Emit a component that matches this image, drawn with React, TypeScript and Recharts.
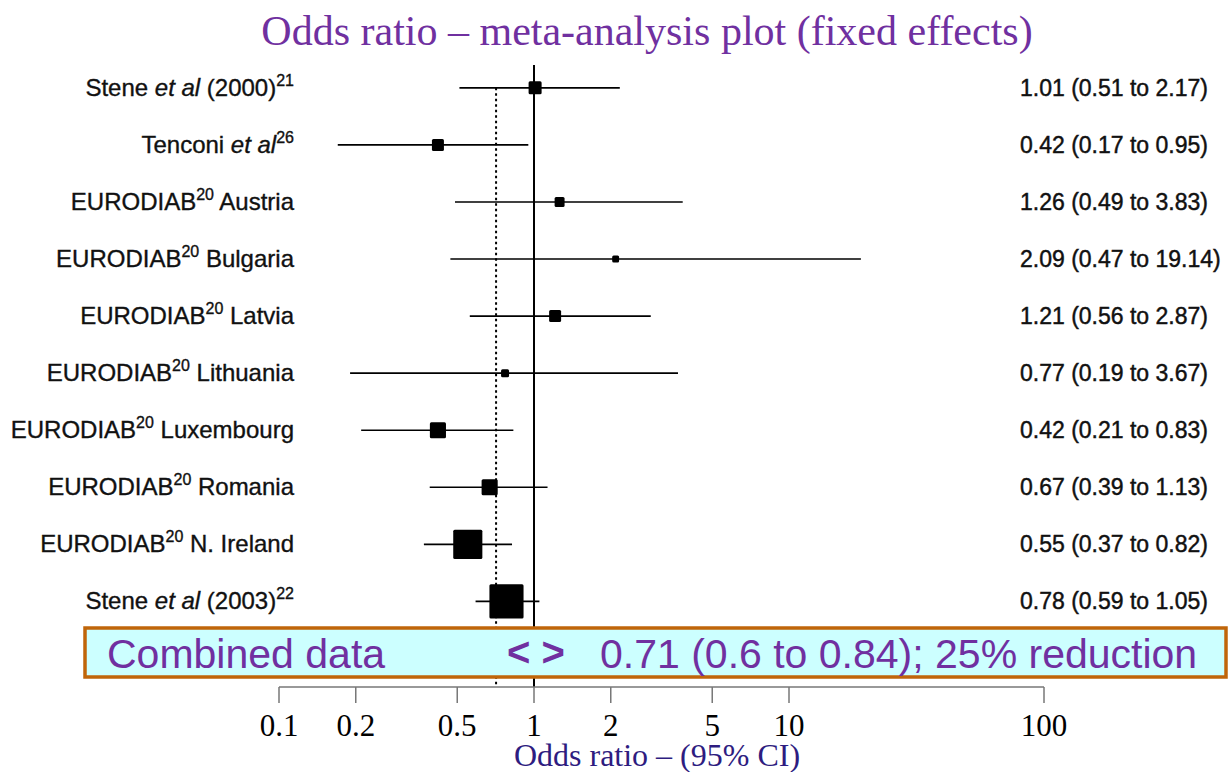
import React from 'react';
import { ScatterChart, Scatter, XAxis, YAxis, ErrorBar, ReferenceLine } from 'recharts';

// ---- data ----
const studyLabels = [
  'Stene *et al* (2000)^21',
  'Tenconi *et al*^26',
  'EURODIAB^20 Austria',
  'EURODIAB^20 Bulgaria',
  'EURODIAB^20 Latvia',
  'EURODIAB^20 Lithuania',
  'EURODIAB^20 Luxembourg',
  'EURODIAB^20 Romania',
  'EURODIAB^20 N. Ireland',
  'Stene *et al* (2003)^22',
];
const oddsRatios = [1.01, 0.42, 1.26, 2.09, 1.21, 0.77, 0.42, 0.67, 0.55, 0.78];
const ciLower = [0.51, 0.17, 0.49, 0.47, 0.56, 0.19, 0.21, 0.39, 0.37, 0.59];
const ciUpper = [2.17, 0.95, 3.83, 19.14, 2.87, 3.67, 0.83, 1.13, 0.82, 1.05];
const studyWeights = [5.3, 4.5, 3.1, 1.5, 4.5, 2.0, 8.1, 8.1, 26.5, 36.4];
const xTicks = [0.1, 0.2, 0.5, 1, 2, 5, 10, 100];
const rowTicks = [0, 1, 2, 3, 4, 5, 6, 7, 8, 9];
const combinedOR = 0.71;
const combinedLower = 0.6;
const combinedUpper = 0.84;
const combinedReduction = 25;

const rows = oddsRatios.map((or, i) => ({
  or,
  row: i,
  err: [or - ciLower[i], ciUpper[i] - or],
  w: studyWeights[i],
}));

const ciText = (i: number) =>
  `${oddsRatios[i].toFixed(2)} (${ciLower[i].toFixed(2)} to ${ciUpper[i].toFixed(2)})`;

const SANS = '"Liberation Sans", Arial, Helvetica, sans-serif';
const SERIF = '"Liberation Serif", "Times New Roman", serif';

function renderRich(label: string) {
  const parts = label.split(/(\*[^*]+\*|\^\d+)/).filter((p) => p.length > 0);
  const out: React.ReactNode[] = [];
  let raised = false;
  parts.forEach((p, k) => {
    if (p.startsWith('^')) {
      out.push(
        <tspan key={k} fontSize={16} dy={-10}>
          {p.slice(1)}
        </tspan>
      );
      raised = true;
    } else {
      const italic = p.startsWith('*');
      const txt = italic ? p.slice(1, -1) : p;
      out.push(
        <tspan key={k} fontStyle={italic ? 'italic' : 'normal'} dy={raised ? 10 : 0}>
          {txt}
        </tspan>
      );
      raised = false;
    }
  });
  return out;
}

const LeftTick = (props: any) => {
  const { x, y, payload } = props;
  const i = payload.value as number;
  if (studyLabels[i] === undefined) return null;
  return (
    <text
      x={x + 15}
      y={y + 8}
      textAnchor="end"
      fontFamily={SANS}
      fontSize={24}
      fill="#111"
      stroke="#111"
      strokeWidth={0.35}
    >
      {renderRich(studyLabels[i])}
    </text>
  );
};

const RightTick = (props: any) => {
  const { x, y, payload } = props;
  const i = payload.value as number;
  if (oddsRatios[i] === undefined) return null;
  return (
    <text
      x={x - 24}
      y={y + 8}
      textAnchor="start"
      fontFamily={SANS}
      fontSize={23}
      fill="#111"
      stroke="#111"
      strokeWidth={0.45}
    >
      {ciText(i)}
    </text>
  );
};

const BottomTick = (props: any) => {
  const { x, y, payload } = props;
  return (
    <text x={x} y={y + 33} textAnchor="middle" fontFamily={SERIF} fontSize={31} fill="#000">
      {String(payload.value)}
    </text>
  );
};

const SquareShape = (props: any) => {
  const { cx, cy, payload } = props;
  const s = Math.sqrt(payload.w * 32);
  return <rect x={cx - s / 2} y={cy - s / 2} width={s} height={s} rx={1.5} fill="#000" />;
};

const NoShape = () => <g />;

export default function App() {
  return (
    <div style={{ position: 'absolute', left: 0, top: 0, width: 1232, height: 772, background: '#fff' }}>
      <ScatterChart
        width={1232}
        height={772}
        margin={{ top: 65, right: 0, bottom: 0, left: 0 }}
      >
        <XAxis
          type="number"
          dataKey="or"
          scale="log"
          domain={[0.1, 100]}
          ticks={xTicks}
          allowDataOverflow
          height={85}
          stroke="#777"
          strokeWidth={1.5}
          tickSize={16}
          tickMargin={0}
          tick={<BottomTick />}
        />
        <YAxis
          yAxisId="left"
          type="number"
          dataKey="row"
          domain={[-0.4, 10.5]}
          reversed
          ticks={rowTicks}
          width={279}
          axisLine={false}
          tickLine={false}
          tickSize={0}
          tickMargin={0}
          interval={0}
          tick={<LeftTick />}
        />
        <YAxis
          yAxisId="right"
          orientation="right"
          type="number"
          dataKey="row"
          domain={[-0.4, 10.5]}
          reversed
          ticks={rowTicks}
          width={188}
          axisLine={false}
          tickLine={false}
          tickSize={0}
          tickMargin={0}
          interval={0}
          tick={<RightTick />}
        />
        <ReferenceLine yAxisId="left" x={1} stroke="#000" strokeWidth={2} />
        <ReferenceLine
          yAxisId="left"
          segment={[
            { x: combinedOR, y: 0 },
            { x: combinedOR, y: 10.5 },
          ]}
          stroke="#000"
          strokeWidth={2}
          strokeDasharray="2.5 3"
        />
        <Scatter
          yAxisId="right"
          data={rows}
          dataKey="row"
          isAnimationActive={false}
          shape={<NoShape />}
          legendType="none"
        />
        <Scatter
          yAxisId="left"
          data={rows}
          dataKey="row"
          isAnimationActive={false}
          shape={<SquareShape />}
        >
          <ErrorBar dataKey="err" direction="x" width={0} stroke="#000" strokeWidth={1.6} />
        </Scatter>
      </ScatterChart>
      <svg
        width={1232}
        height={772}
        style={{ position: 'absolute', left: 0, top: 0, pointerEvents: 'none' }}
      >
        <text x={647} y={45} textAnchor="middle" fontFamily={SERIF} fontSize={42} fill="#7030A0">
          Odds ratio – meta-analysis plot (fixed effects)
        </text>
        <rect x={85} y={628} width={1141} height={49} fill="#CCFFFF" stroke="#C0650A" strokeWidth={3.5} />
        <text x={107} y={668} fontFamily={SANS} fontSize={41} fill="#7030A0">
          Combined data
        </text>
        <text x={507} y={666} fontFamily={SANS} fontSize={40} fontWeight="bold" fill="#7030A0">
          {'< >'}
        </text>
        <text x={600} y={668} fontFamily={SANS} fontSize={41} fill="#7030A0">
          {`${combinedOR.toFixed(2)} (${combinedLower} to ${combinedUpper}); ${combinedReduction}% reduction`}
        </text>
        <text x={657} y={766} textAnchor="middle" fontFamily={SERIF} fontSize={32} fill="#2E1C80">
          Odds ratio – (95% CI)
        </text>
      </svg>
    </div>
  );
}
